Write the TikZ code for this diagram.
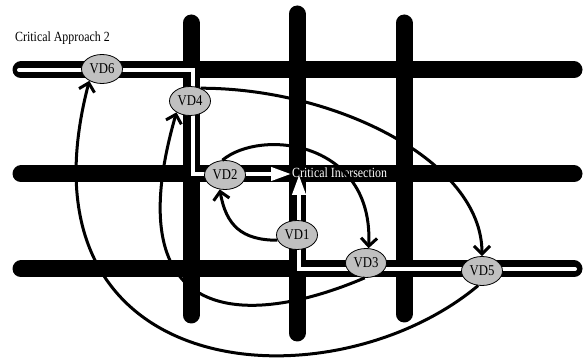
\documentclass[tikz,border=0pt]{standalone}
\usepackage{fontspec}
\newfontfamily\narrowserif{Liberation Serif}[FakeStretch=0.85]
\usetikzlibrary{arrows.meta,shapes.geometric}
\begin{document}
\begin{tikzpicture}[x=1pt,y=1pt,font=\narrowserif\fontsize{15}{17}\selectfont,
  road/.style={line width=17pt,line cap=round},
  lane/.style={white,line width=4pt,line cap=round,-{Triangle[length=20pt,width=13pt]}},
  veh/.style={ellipse,draw,line width=.8pt,fill=vdgray,minimum width=41pt,minimum height=29pt,inner sep=0pt},
  move/.style={line width=3pt,-{Straight Barb[length=8pt,width=16pt]}}]
\definecolor{vdgray}{HTML}{C0C0C0}
\useasboundingbox (0,0) rectangle (586,358);
% streets
\foreach \y in {288,184,89}{\draw[road] (21,\y)--(574,\y);}
\foreach \x/\a/\b in {191/43/335,297/25/344,404/44/335}{\draw[road] (\x,\a)--(\x,\b);}
% critical approaches
\draw[lane] (19,288) -| (193,184) -- (291,184);
\draw[lane] (575,89) -| (299,183);
\node[anchor=west,inner sep=0pt,font=\narrowserif\fontsize{14}{16}\selectfont] (CA2) at (15,320) {Critical Approach 2};
\node[anchor=west,inner sep=0pt,text=white,font=\narrowserif\fontsize{14}{16}\selectfont] (CI) at (292,185) {Critical Intersection};
% detectors
\foreach \n/\x/\y in {VD6/102/289,VD4/190/257,VD2/225/183,VD1/297/123,VD3/366/95,VD5/482/87}{\node[veh] (\n) at (\x,\y) {\n};}
% vehicle movements
\draw[move] (VD1.195) to[out=180,in=-80,looseness=1.2] (VD2.250);
\draw[move] (VD2.100) .. controls +(38,32) and +(5,108) .. (VD3.80);
\draw[move] (VD3.265) .. controls +(-117,-50) and +(-62,-216) .. (VD4.220);
\draw[move] (VD4.50) .. controls +(135,0) and +(0,95) .. (VD5.north);
\draw[move] (VD5.255) .. controls +(-147,-123) and +(-80,-306) .. (VD6.223);
\end{tikzpicture}
\end{document}
